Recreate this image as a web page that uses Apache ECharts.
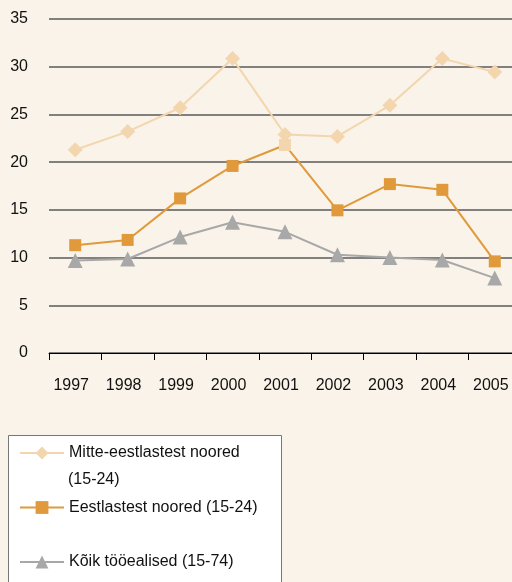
<!DOCTYPE html>
<html lang="et">
<head>
    <meta charset="UTF-8">
    <title>Noorte töötus</title>
    <style>
        html, body { margin: 0; padding: 0; background: #faf3e9; }
    </style>
</head>
<body>
<div id="main" style="width: 512px;height: 582px;"></div>
<script src="https://cdn.jsdelivr.net/npm/echarts@6.0.0/dist/echarts.min.js"></script>
<script>
    var years = ['1997', '1998', '1999', '2000', '2001', '2002', '2003', '2004', '2005'];
    var mitteEestlased = [21.3, 23.2, 25.7, 30.85, 22.9, 22.7, 25.95, 30.85, 29.45];
    var eestlased = [11.3, 11.85, 16.2, 19.6, 21.8, 14.95, 17.7, 17.1, 9.6];
    var koik = [9.7, 9.85, 12.15, 13.7, 12.7, 10.3, 10.0, 9.75, 7.85];

    var names = ['Mitte-eestlastest noored (15-24)', 'Eestlastest noored (15-24)', 'Kõik tööealised (15-74)'];
    var colors = ['#f3d6ae', '#e09a3c', '#a8a8a8'];
    var font = 'Liberation Sans, Arial, sans-serif';

    // 2001 ruut on originaalis heledam
    var eestlasedData = eestlased.map(function (v, i) {
        if (i === 4) return {value: v, itemStyle: {color: '#f3d6ae'}};
        return v;
    });

    var myChart = echarts.init(document.getElementById('main'));
    var option = {
        backgroundColor: '#faf3e9',
        animation: false,
        grid: {left: 49, top: 19, width: 472, height: 334, outerBoundsMode: 'none'},
        xAxis: {
            type: 'category',
            data: years,
            boundaryGap: true,
            axisLine: {lineStyle: {color: '#000', width: 1}},
            axisTick: {show: true, length: 7, lineStyle: {color: '#000', width: 1}},
            axisLabel: {color: '#111', fontSize: 16, fontFamily: font, margin: 25,
                padding: [0, 8, 0, 0]}
        },
        yAxis: {
            type: 'value',
            min: 0, max: 35, interval: 5,
            axisLine: {show: false},
            axisTick: {show: false},
            axisLabel: {color: '#111', fontSize: 16, fontFamily: font, margin: 21},
            splitLine: {lineStyle: {color: '#5a5a5a', width: 1.5}}
        },
        legend: {
            orient: 'vertical',
            left: 19, top: 443,
            padding: 0,
            itemWidth: 44, itemHeight: 16,
            itemGap: 34.5,
            data: names,
            formatter: function (n) {
                return n === names[0] ? 'Mitte-eestlastest noored' : n;
            },
            textStyle: {fontSize: 16, fontFamily: font, color: '#111', lineHeight: 20},
            z: 10
        },
        graphic: [
            {type: 'rect', left: 8, top: 435, z: 0,
                shape: {width: 273, height: 160},
                style: {fill: '#fff', stroke: '#777', lineWidth: 1}},
            {type: 'text', left: 68, top: 472, z: 10,
                style: {text: '(15-24)', fontSize: 16, fontFamily: font, fill: '#111'}}
        ],
        series: [
            {
                name: names[0], type: 'line', data: mitteEestlased,
                symbol: 'diamond', symbolSize: 15,
                itemStyle: {color: colors[0]},
                lineStyle: {color: colors[0], width: 2}, z: 3
            },
            {
                name: names[1], type: 'line', data: eestlasedData,
                symbol: 'rect', symbolSize: 12,
                itemStyle: {color: colors[1]},
                lineStyle: {color: colors[1], width: 2}, z: 2
            },
            {
                name: names[2], type: 'line', data: koik,
                symbol: 'triangle', symbolSize: 15,
                itemStyle: {color: colors[2]},
                lineStyle: {color: colors[2], width: 2}, z: 1
            }
        ]
    };

    myChart.setOption(option);
</script>
</body>
</html>
